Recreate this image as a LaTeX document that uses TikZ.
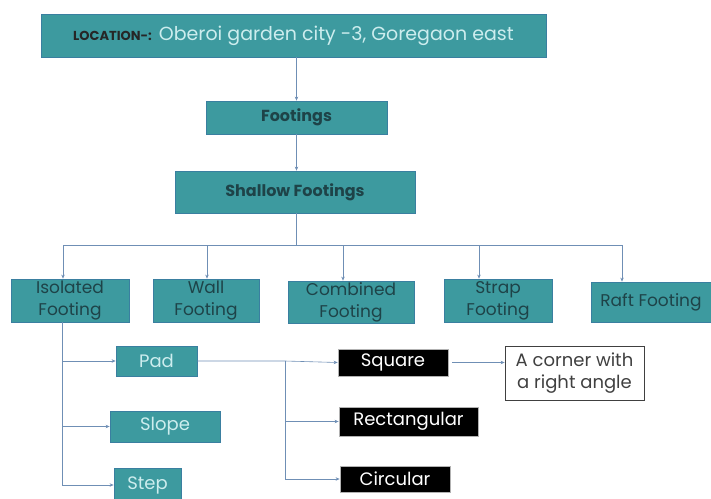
\documentclass[tikz,border=0pt]{standalone}
\usepackage{fontspec}
\setmainfont{Poppins}
\usetikzlibrary{arrows.meta}
\definecolor{teal1}{HTML}{3D9A9F}
\definecolor{tealedge}{HTML}{3A7FA0}
\definecolor{darktxt}{HTML}{1E4348}
\definecolor{lighttxt}{HTML}{CDEDEE}
\definecolor{arrowc}{HTML}{6F8FB5}
\tikzset{
  tbox/.style={draw=tealedge, line width=0.8pt, fill=teal1, inner sep=0pt, align=center},
  darkt/.style={text=darktxt},
  lightt/.style={text=lighttxt},
  bbox/.style={draw=gray!60, line width=0.8pt, fill=black, text=white, inner sep=0pt, align=center},
  wbox/.style={draw=black!75, line width=0.8pt, fill=white, text=black!75, inner sep=0pt, align=center},
  arr/.style={draw=arrowc, line width=0.6pt, -{Stealth[length=4pt,width=3.5pt]}},
  ln/.style={draw=arrowc, line width=0.6pt},
}
\begin{document}
\begin{tikzpicture}[x=1pt,y=1pt]
\useasboundingbox (0,0) rectangle (711,-498);
% top
\node[tbox, minimum width=505, minimum height=43] (loc) at (293.5,-35.5)
  {{\fontsize{13}{14}\selectfont\bfseries\color{black!85}LOCATION-:}\hspace{7pt}{\fontsize{19}{22}\selectfont\color{lighttxt}Oberoi garden city -3, Goregaon east}};
\node[tbox, darkt, minimum width=181, minimum height=33, font=\fontsize{16}{18}\selectfont\bfseries] (foot) at (296.5,-117.5) {Footings};
\node[tbox, darkt, minimum width=240, minimum height=42, font=\fontsize{16}{18}\selectfont\bfseries] (shal) at (295,-192) {Shallow Footings};
% row
\tikzset{rowf/.style={tbox, darkt, font=\fontsize{17}{22}\selectfont}}
\node[rowf, minimum width=118, minimum height=43] (iso) at (70,-300.5) {Isolated\\Footing};
\node[rowf, minimum width=106, minimum height=43] (wall) at (206,-300.5) {Wall\\Footing};
\node[rowf, minimum width=126, minimum height=42] (comb) at (351,-302) {Combined\\Footing};
\node[rowf, minimum width=108, minimum height=43] (strap) at (498,-300.5) {Strap\\Footing};
\node[rowf, minimum width=120, minimum height=40] (raft) at (651,-302) {Raft Footing};
% isolated sub
\tikzset{subf/.style={tbox, lightt, font=\fontsize{18}{20}\selectfont}}
\node[subf, minimum width=81, minimum height=30] (pad) at (156.5,-361) {Pad};
\node[subf, minimum width=110, minimum height=31] (slope) at (165,-426.5) {Slope};
\node[subf, minimum width=67, minimum height=34] (step) at (147.5,-485) {Step};
% black boxes
\tikzset{blkf/.style={bbox, font=\fontsize{18}{20}\selectfont}}
\node[blkf, minimum width=110, minimum height=27] (sq) at (393,-362.5) {Square};
\node[blkf, minimum width=139, minimum height=29] (rect) at (408.5,-421.5) {Rectangular};
\node[blkf, minimum width=110, minimum height=26] (circ) at (395,-479) {Circular};
\node[wbox, minimum width=139, minimum height=54, font=\fontsize{18}{22}\selectfont] (corner) at (574.5,-373) {A corner with\\a right angle};
% connectors
\draw[arr] (loc.south -| foot.north) -- (foot.north);
\draw[arr] (foot.south) -- (foot.south |- shal.north);
\coordinate (bus) at (296.5,-245);
\draw[ln] (foot.south |- shal.south) -- (bus);
\draw[ln] (63,-245) -- (622,-245);
\draw[arr] (63,-245) -- (63,0 |- iso.north);
\draw[arr] (207,-245) -- (207,0 |- wall.north);
\draw[arr] (343,-245) -- (343,0 |- comb.north);
\draw[arr] (479,-245) -- (479,0 |- strap.north);
\draw[arr] (622,-245) -- (622,0 |- raft.north);
\coordinate (isoleg) at (62,-485);
\draw[ln] (62,0 |- iso.south) -- (isoleg);
\draw[arr] (62,0 |- pad.west) -- (pad.west);
\draw[arr] (62,0 |- slope.west) -- (slope.west);
\draw[arr] (isoleg) -- (step.west);
\coordinate (br) at (285,-361);
\coordinate (brend) at (285,-479);
\draw[arr] (pad.east) -- (br) -- (sq.west);
\draw[ln] (br) -- (brend);
\draw[arr] (285,0 |- rect.west) -- (rect.west);
\draw[arr] (brend) -- (circ.west);
\draw[arr, shorten <=4pt] (sq.east) -- (corner.west |- sq.east);
\end{tikzpicture}
\end{document}
